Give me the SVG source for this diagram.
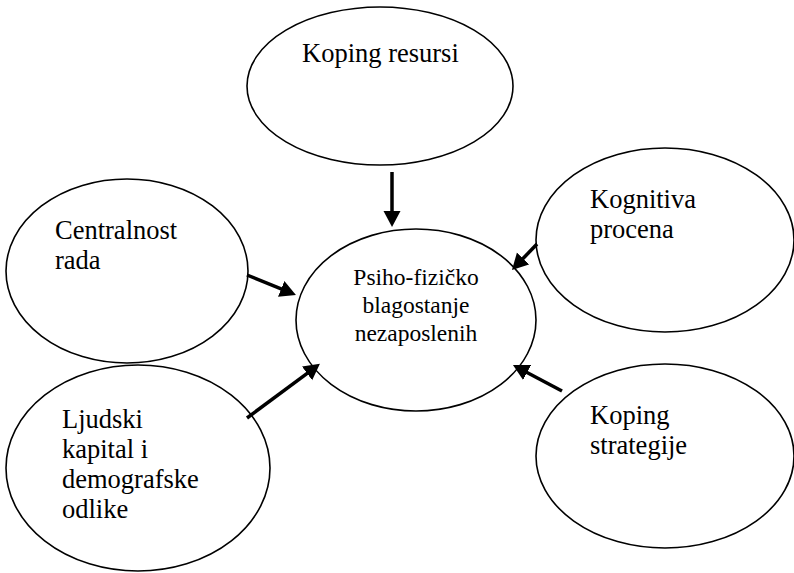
<svg xmlns="http://www.w3.org/2000/svg" width="794" height="573" viewBox="0 0 794 573">
<style>
.node ellipse{fill:#fff;stroke:#000;stroke-width:1.6}
.lbl{font-family:"Liberation Serif","Times New Roman",serif;font-size:26.5px;fill:#000}
.ctr{font-family:"Liberation Serif","Times New Roman",serif;font-size:23.5px;fill:#000;text-anchor:middle}
#connectors line{stroke:#000;stroke-width:3.5;marker-end:url(#ah)}
</style>
<defs>
<marker id="ah" markerUnits="userSpaceOnUse" markerWidth="18" markerHeight="18" refX="6" refY="8.5" orient="auto">
<path d="M0,0 L16,8.5 L0,17 z" fill="#000"/>
</marker>
</defs>
<rect width="794" height="573" fill="#fff"/>
<g id="n-koping-resursi" class="node">
<ellipse cx="380" cy="86" rx="133" ry="79"/>
<text class="lbl" x="302" y="62">Koping resursi</text>
</g>
<g id="n-centralnost" class="node">
<ellipse cx="127" cy="271" rx="121" ry="92"/>
<text class="lbl" x="55" y="239">Centralnost</text>
<text class="lbl" x="55" y="269">rada</text>
</g>
<g id="n-ljudski" class="node">
<ellipse cx="138" cy="468" rx="132" ry="103"/>
<text class="lbl" x="62" y="428">Ljudski</text>
<text class="lbl" x="62" y="458">kapital i</text>
<text class="lbl" x="62" y="488">demografske</text>
<text class="lbl" x="62" y="518">odlike</text>
</g>
<g id="n-kognitiva" class="node">
<ellipse cx="665" cy="240" rx="129" ry="92"/>
<text class="lbl" x="590" y="208">Kognitiva</text>
<text class="lbl" x="590" y="238">procena</text>
</g>
<g id="n-koping-strategije" class="node">
<ellipse cx="665" cy="456" rx="129" ry="92"/>
<text class="lbl" x="590" y="424">Koping</text>
<text class="lbl" x="590" y="454">strategije</text>
</g>
<g id="n-center" class="node">
<ellipse cx="416" cy="320" rx="120" ry="91"/>
<text class="ctr" x="416" y="285">Psiho-fizičko</text>
<text class="ctr" x="416" y="313">blagostanje</text>
<text class="ctr" x="416" y="341">nezaposlenih</text>
</g>
<g id="connectors">
<line x1="392" y1="172" x2="392" y2="217"/>
<line x1="247" y1="275" x2="286.7" y2="291.2"/>
<line x1="537" y1="244" x2="518.9" y2="262.8"/>
<line x1="562" y1="391" x2="521.8" y2="369.7"/>
<line x1="247" y1="418" x2="311.9" y2="369.8"/>
</g>
</svg>
